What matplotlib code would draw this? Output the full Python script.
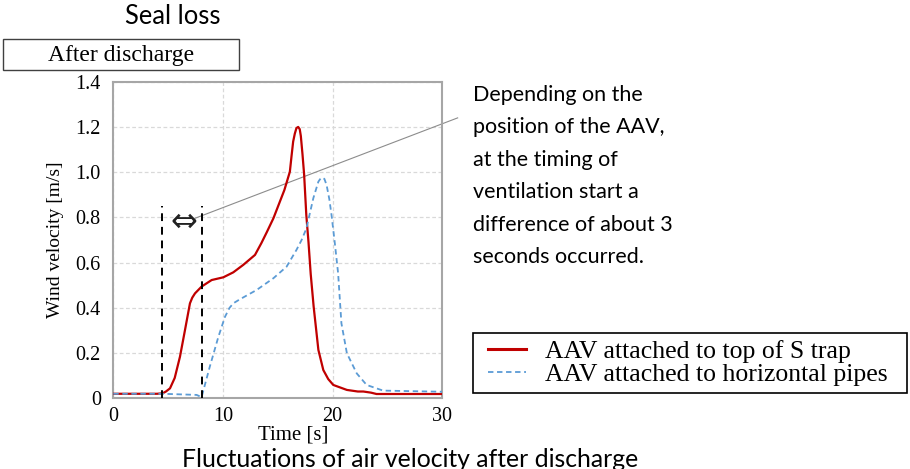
import matplotlib.pyplot as plt
from matplotlib.patches import Rectangle

# data
t_top = [0, 4.0, 4.5, 4.8, 5.17, 5.6, 6.08, 6.53, 6.99, 7.2, 7.45, 8.05, 8.97, 10.03, 10.94,
         11.85, 12.92, 13.5, 14.0, 14.6, 15.6, 16.1, 16.25, 16.4, 16.55, 16.7, 16.86, 17.0,
         17.1, 17.25, 17.4, 17.6, 17.8, 18.0, 18.27, 18.7, 19.15, 19.6, 20.06, 21.3, 22.3,
         22.8, 23.5, 24.0, 30]
v_top = [0.02, 0.02, 0.022, 0.03, 0.044, 0.09, 0.184, 0.30, 0.42, 0.445, 0.464, 0.494, 0.523,
         0.535, 0.557, 0.59, 0.634, 0.686, 0.735, 0.796, 0.921, 1.002, 1.07, 1.135, 1.17,
         1.195, 1.2, 1.19, 1.16, 1.08, 0.99, 0.81, 0.69, 0.55, 0.405, 0.214, 0.125, 0.085,
         0.059, 0.037, 0.03, 0.03, 0.025, 0.019, 0.019]

t_hor = [0, 4.5, 7.6, 8.05, 8.8, 9.57, 10.18, 10.6, 10.94, 11.55, 13.07, 14.6, 15.8, 16.7,
         17.17, 17.6, 18.24, 18.7, 18.9, 19.05, 19.25, 19.45, 19.7, 19.9, 20.2, 20.5, 20.8,
         21.3, 22.2, 23.1, 24.6, 30]
v_hor = [0.02, 0.02, 0.015, 0.005, 0.14, 0.27, 0.36, 0.40, 0.42, 0.438, 0.479, 0.531, 0.582,
         0.656, 0.70, 0.75, 0.885, 0.958, 0.972, 0.976, 0.97, 0.943, 0.88, 0.81, 0.686, 0.553,
         0.332, 0.199, 0.11, 0.059, 0.034, 0.029]

labels = ['AAV attached to top of S trap', 'AAV attached to horizontal pipes']
start_top, start_hor = 4.45, 8.05

xticks = [0, 10, 20, 30]
yticks = [0, 0.2, 0.4, 0.6, 0.8, 1.0, 1.2, 1.4]
ytick_labels = ['0', '0.2', '0.4', '0.6', '0.8', '1.0', '1.2', '1.4']

W, H = 910, 469
fig = plt.figure(figsize=(W / 100, H / 100), dpi=100)
ax = fig.add_axes([113.3 / W, 1 - 398.3 / H, 329 / W, 316.6 / H])

serif = 'Liberation Serif'
sans = 'Lato'
red = '#c00000'
blue = '#5b9bd5'

ax.plot(t_top, v_top, color=red, lw=1.6, label=labels[0], zorder=3)
ax.plot(t_hor, v_hor, color=blue, lw=1.3, ls=(0, (3, 2)), label=labels[1], zorder=3)

# start of ventilation markers
for xs in (start_top, start_hor):
    ax.plot([xs, xs], [0, 0.85], color='black', lw=1.4, ls=(0, (4, 3)), zorder=4)
ax.text(6.4, 0.777, '\u21d4', ha='center', va='center', fontsize=23,
        family='DejaVu Sans', color='#222222')
ax.plot([7.45, 31.4], [0.796, 1.24], color='#8c8c8c', lw=0.8, clip_on=False)

ax.set_xlim(0, 30)
ax.set_ylim(0, 1.4)
ax.set_xticks(xticks)
ax.set_yticks(yticks)
ax.set_yticklabels(ytick_labels)
ax.tick_params(length=0, labelsize=14.5)
ax.tick_params(axis='x', pad=6)
ax.tick_params(axis='y', pad=9)
for lab in ax.get_xticklabels() + ax.get_yticklabels():
    lab.set_family(serif)
ax.grid(True, color='#d9d9d9', ls=(0, (3, 2)), lw=0.9)
ax.set_axisbelow(True)
for sp in ax.spines.values():
    sp.set_color('#a6a6a6')
    sp.set_linewidth(1.5)

ax.set_ylabel('Wind velocity [m/s]', family=serif, fontsize=14, labelpad=8)
ax.set_xlabel('Time [s]', family=serif, fontsize=15)
ax.xaxis.set_label_coords(0.546, -0.085)

# legend with its own frame
fig.patches.append(Rectangle((473 / W, 1 - 393 / H), 434 / W, 60 / H, transform=fig.transFigure,
                             fill=False, edgecolor='black', lw=1.2))
leg = ax.legend(loc='center left', bbox_to_anchor=(488 / W, 1 - 363 / H),
                bbox_transform=fig.transFigure, borderaxespad=0, borderpad=0,
                prop={'family': serif, 'size': 18.5}, frameon=False,
                handlelength=1.48, handletextpad=0.74, labelspacing=0.0)
leg.get_lines()[0].set_linewidth(2.2)

# titles and notes
fig.text(173 / W, 1 - 17 / H, 'Seal loss', family=sans, fontsize=18.4, ha='center', va='center')
fig.patches.append(Rectangle((3 / W, 1 - 70 / H), 236 / W, 31 / H, transform=fig.transFigure,
                             fill=False, edgecolor='#404040', lw=1.0))
fig.text(121 / W, 1 - 55 / H, 'After discharge', family=serif, fontsize=17,
         ha='center', va='center')
fig.text(473 / W, 1 - 85 / H,
         'Depending on the\nposition of the AAV,\nat the timing of\nventilation start a\n'
         'difference of about 3\nseconds occurred.',
         family=sans, fontsize=15.5, ha='left', va='top', linespacing=1.78)
fig.text(410 / W, 1 - 459 / H, 'Fluctuations of air velocity after discharge',
         family=sans, fontsize=17.8, ha='center', va='center')

fig.savefig('out.png', dpi=100)
